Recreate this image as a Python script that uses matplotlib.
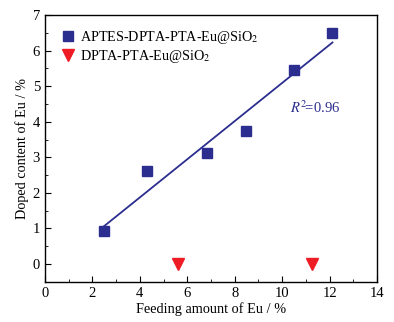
import numpy as np
import matplotlib
matplotlib.use("Agg")
import matplotlib.pyplot as plt
from matplotlib.ticker import MultipleLocator

plt.rcParams["font.family"] = ["Liberation Serif", "DejaVu Serif"]
plt.rcParams["mathtext.fontset"] = "stix"

# APTES-DPTA-PTA-Eu@SiO2
feed_a = [2.48, 4.32, 6.84, 8.47, 10.5, 12.12]
doped_a = [0.93, 2.61, 3.13, 3.74, 5.45, 6.5]
# DPTA-PTA-Eu@SiO2
feed_b = [5.63, 11.24]
doped_b = [0.0, 0.0]

blue = "#2b2e8f"
red = "#ee1c24"

fig = plt.figure(figsize=(3.94, 3.22), dpi=100)
ax = fig.add_axes([0.114, 0.125, 0.843, 0.828])

ax.plot(feed_a, doped_a, "s", color=blue, markersize=6.5, linestyle="none",
        label="APTES-DPTA-PTA-Eu@SiO$_2$")
ax.plot(feed_b, doped_b, "v", color=red, markersize=9, linestyle="none",
        label="DPTA-PTA-Eu@SiO$_2$")

k, d = np.polyfit(feed_a, doped_a, 1)
xf = np.array([min(feed_a), max(feed_a)])
ax.plot(xf, k * xf + d, color=blue, lw=1.3)

ax.text(11.4, 4.4, "$R^{2}\\!$=0.96", color=blue, fontsize=10.5, ha="center", va="center")

ax.set_xlim(0, 14)
ax.set_ylim(-0.5, 7)
ax.xaxis.set_major_locator(MultipleLocator(2))
ax.xaxis.set_minor_locator(MultipleLocator(1))
ax.yaxis.set_major_locator(MultipleLocator(1))
ax.yaxis.set_minor_locator(MultipleLocator(0.5))
ax.tick_params(which="both", direction="in", top=False, right=False, labelsize=10.5)
ax.tick_params(which="major", length=4)
ax.tick_params(which="minor", length=2)
for s in ax.spines.values():
    s.set_linewidth(1.0)

ax.set_xlabel("Feeding amount of Eu / %", fontsize=10.3, labelpad=2)
ax.set_ylabel("Doped content of Eu / %", fontsize=10.3, labelpad=3)

ax.legend(loc="upper left", frameon=False, fontsize=10.2, handletextpad=0.3,
          borderaxespad=0.6, labelspacing=0.15, handlelength=1.2)

fig.savefig("out.png", dpi=100)
